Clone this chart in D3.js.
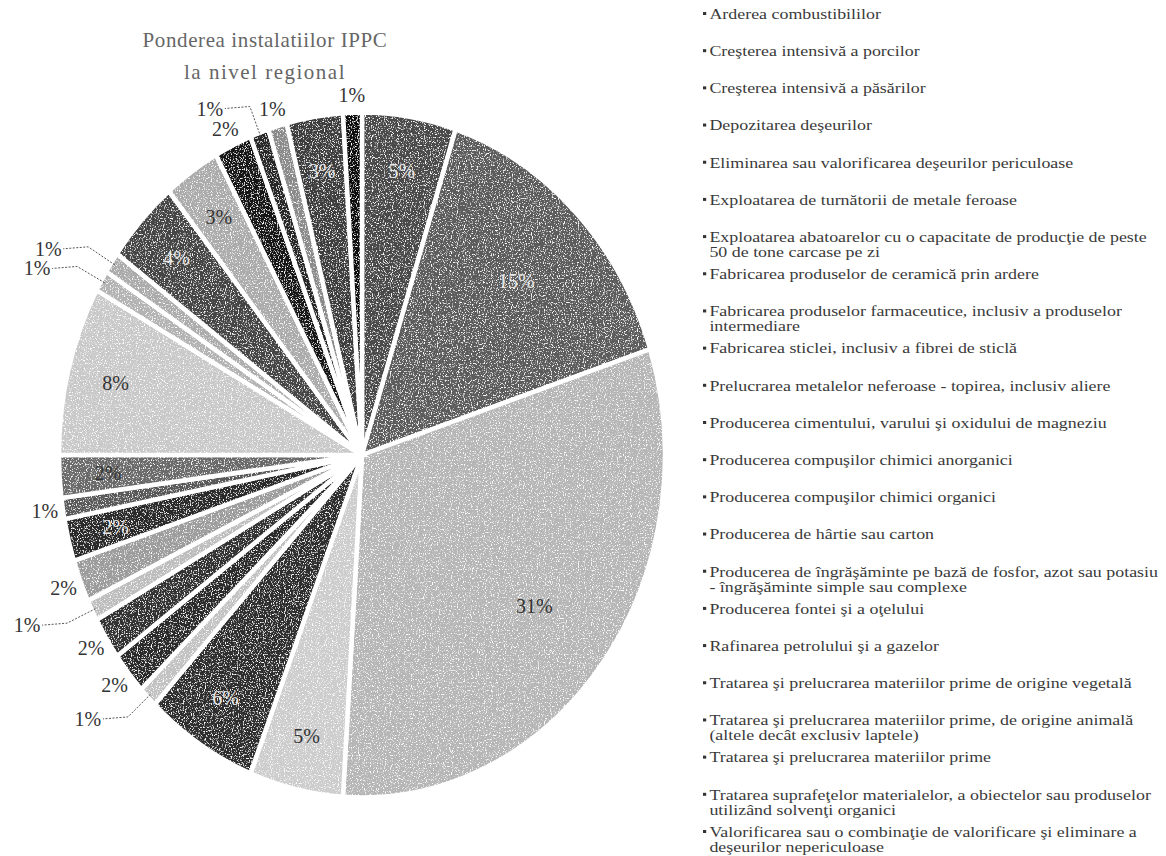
<!DOCTYPE html>
<html>
<head>
<meta charset="utf-8">
<script src="https://cdn.jsdelivr.net/npm/d3@7"></script>
<style>
  body { margin: 0; background: #fff; }
  svg { display: block; }
</style>
</head>
<body>
<svg id="chart" width="1166" height="856"></svg>
<script>
// ************************************
// Data (clockwise from 12 o'clock, same order as legend)
// ************************************

const categories = [
    "Arderea combustibililor",
    "Creşterea intensivă a porcilor",
    "Creşterea intensivă a păsărilor",
    "Depozitarea deşeurilor",
    "Eliminarea sau valorificarea deşeurilor periculoase",
    "Exploatarea de turnătorii de metale feroase",
    "Exploatarea abatoarelor cu o capacitate de producţie de peste|50 de tone carcase pe zi",
    "Fabricarea produselor de ceramică prin ardere",
    "Fabricarea produselor farmaceutice, inclusiv a produselor|intermediare",
    "Fabricarea sticlei, inclusiv a fibrei de sticlă",
    "Prelucrarea metalelor neferoase - topirea, inclusiv aliere",
    "Producerea cimentului, varului şi oxidului de magneziu",
    "Producerea compuşilor chimici anorganici",
    "Producerea compuşilor chimici organici",
    "Producerea de hârtie sau carton",
    "Producerea de îngrăşăminte pe bază de fosfor, azot sau potasiu|- îngrăşăminte simple sau complexe",
    "Producerea fontei şi a oţelului",
    "Rafinarea petrolului şi a gazelor",
    "Tratarea şi prelucrarea materiilor prime de origine vegetală",
    "Tratarea şi prelucrarea materiilor prime, de origine animală|(altele decât exclusiv laptele)",
    "Tratarea şi prelucrarea materiilor prime",
    "Tratarea suprafeţelor materialelor, a obiectelor sau produselor|utilizând solvenţi organici",
    "Valorificarea sau o combinaţie de valorificare şi eliminare a|deşeurilor nepericuloase"
];

const shares = [5, 15, 31, 5, 6, 1, 2, 2, 1, 2, 2, 1, 2, 8, 1, 1, 4, 3, 2, 1, 1, 3, 1];

const titleLines = ["Ponderea instalatiilor IPPC", "la nivel regional"];

// grey shade of each slice (scan is black & white)
const shades = ["#4a4a4a", "#5c5c5c", "#b6b6b6", "#cdcdcd", "#2e2e2e", "#c2c2c2",
    "#2a2a2a", "#333333", "#bdbdbd", "#9c9c9c", "#2c2c2c", "#585858", "#6a6a6a",
    "#c9c9c9", "#b3b3b3", "#ababab", "#444444", "#ababab", "#161616", "#262626",
    "#8a8a8a", "#3c3c3c", "#0c0c0c"];

// where each percentage sits: in = inside slice, out = just outside, far = outside with leader
const placement = ["in", "in", "in", "in", "in", "far", "out", "out", "far", "out", "in", "out",
    "in", "in", "far", "far", "in", "in", "out", "far", "out", "in", "out"];

// ************************************
// Layout
// ************************************

const svg = d3.select("#chart");
const cx = 362, cy = 455;
const radius = 303;
const sy = 1.13;   // the scanned pie is a little taller than wide

const defs = svg.append("defs");
const grain = defs.append("filter").attr("id", "grain")
    .attr("x", 0).attr("y", 0).attr("width", 1).attr("height", 1);
grain.append("feTurbulence").attr("type", "fractalNoise")
    .attr("baseFrequency", 0.85).attr("numOctaves", 2).attr("seed", 3).attr("result", "n");
grain.append("feColorMatrix").attr("in", "n").attr("type", "matrix")
    .attr("values", "0 0 0 0 1  0 0 0 0 1  0 0 0 0 1  5 0 0 0 -2.75").attr("result", "w");
grain.append("feComposite").attr("in", "w").attr("in2", "SourceGraphic").attr("operator", "in").attr("result", "ws");
const merge = grain.append("feMerge");
merge.append("feMergeNode").attr("in", "SourceGraphic");
merge.append("feMergeNode").attr("in", "ws");

// Title
svg.append("g")
    .selectAll("text")
    .data(titleLines)
    .join("text")
    .attr("x", 265)
    .attr("y", (d, i) => 47 + i * 32)
    .attr("text-anchor", "middle")
    .attr("font-family", "'Liberation Serif', 'DejaVu Serif', serif")
    .attr("font-size", 21)
    .attr("letter-spacing", (d, i) => i ? 1.5 : 0.6)
    .attr("fill", "#666")
    .text(d => d);

// ************************************
// Pie
// ************************************

const data = categories.map((c, i) => ({ name: c, value: shares[i], i: i }));

const pie = d3.pie().sort(null).value(d => d.value);
const arcs = pie(data);

const arc = d3.arc().innerRadius(0).outerRadius(radius);

const g = svg.append("g")
    .attr("transform", `translate(${cx},${cy}) scale(1,${sy})`);

g.append("g")
    .attr("filter", "url(#grain)")
    .selectAll("path")
    .data(arcs)
    .join("path")
    .attr("d", arc)
    .attr("fill", d => shades[d.data.i])
    .attr("stroke", "#fff")
    .attr("stroke-width", 4.5)
    .attr("vector-effect", "non-scaling-stroke");

// point on the (stretched) pie at angle a, radius r, plus extra screen pixels
function pt(a, r, extra = 0) {
    return [cx + Math.sin(a) * (r + extra), cy - Math.cos(a) * (r * sy + extra)];
}

const labels = svg.append("g")
    .attr("font-family", "'Liberation Serif', 'DejaVu Serif', serif")
    .attr("font-size", 20);

arcs.forEach(d => {
    const mid = (d.startAngle + d.endAngle) / 2;
    const v = d.data.value;
    const mode = placement[d.data.i];
    let x, y;
    if (mode === "in") {
        [x, y] = pt(mid, radius * (v >= 10 ? 0.72 : 0.84));
    } else if (mode === "out") {
        [x, y] = pt(mid, radius, 18);
    } else {
        // leader runs outward, label pushed sideways
        const side = Math.sin(mid) < 0 ? -1 : 1;
        const [x0, y0] = pt(mid, radius, -4);
        const [x1, y1] = pt(mid, radius, 28);
        x = x1 + side * 40;
        y = y1 + 2;
        labels.append("path")
            .attr("d", `M${x0},${y0}L${x1},${y1}L${x - side * 15},${y}`)
            .attr("fill", "none")
            .attr("stroke", "#555").attr("stroke-width", 1)
            .attr("stroke-dasharray", "2,1.5");
    }
    const dark = d3.hsl(shades[d.data.i]).l < 0.4;
    labels.append("text")
        .attr("x", x)
        .attr("y", y)
        .attr("text-anchor", "middle")
        .attr("dominant-baseline", "central")
        .attr("fill", mode === "in" && dark ? "#e8e8e8" : "#333")
        .text(v + "%");
});

// ************************************
// Legend
// ************************************

const ly = d3.scaleLinear().domain([0, categories.length - 1]).range([14, 832]);

const legend = svg.append("g")
    .attr("transform", "translate(703,0) scale(1.28,1)")
    .attr("font-family", "'Liberation Serif', 'DejaVu Serif', serif")
    .attr("font-size", 14)
    .attr("fill", "#3a3a3a");

categories.forEach((c, i) => {
    const row = legend.append("g").attr("transform", `translate(0,${ly(i)})`);
    row.append("rect")
        .attr("x", 0).attr("y", -2)
        .attr("width", 2.5).attr("height", 3)
        .attr("fill", "#333");
    c.split("|").forEach((line, k) => {
        row.append("text")
            .attr("x", 5)
            .attr("y", k * 15)
            .attr("dominant-baseline", "central")
            .text(line);
    });
});
</script>
</body>
</html>
